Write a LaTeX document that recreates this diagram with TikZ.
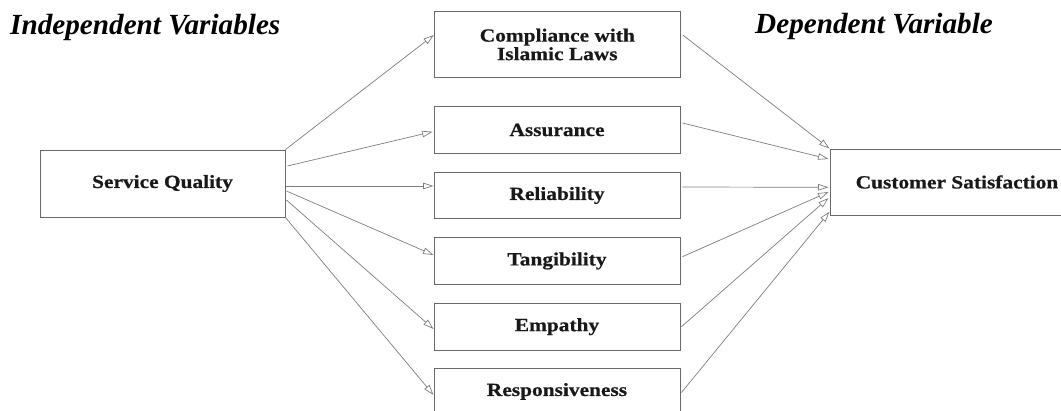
\documentclass[tikz,border=0pt]{standalone}
\usepackage{fontspec}
\setmainfont{Liberation Serif}
\newfontfamily\boxfont[FakeStretch=1.15,FakeBold=0.6]{Liberation Serif}
\usetikzlibrary{arrows.meta,calc}
\definecolor{boxline}{RGB}{105,105,105}
\definecolor{arrowline}{RGB}{125,125,125}
\definecolor{ink}{RGB}{25,25,25}
\tikzset{
  varbox/.style={draw=boxline, line width=0.9pt, fill=white, text=ink,
    font=\boxfont\bfseries\fontsize{18.6}{18.5}\selectfont, align=center,
    inner sep=0pt, minimum width=246pt, minimum height=46.5pt},
  link/.style={draw=arrowline, line width=0.7pt,
    -{Triangle[open, length=10.5pt, width=6.5pt]}},
  heading/.style={font=\bfseries\itshape\fontsize{29.2}{30}\selectfont,
    anchor=base west, inner sep=0pt, text=black}
}
\begin{document}
\begin{tikzpicture}[x=1pt,y=-1pt]
\useasboundingbox (0,0) rectangle (1061,410);
\clip (0,0) rectangle (1061,410);

% headings
\node[heading] (indep) at (10,34) {Independent Variables};
\node[heading] (dep) at (755,33.3) {Dependent Variable};

% independent variable
\node[varbox, minimum width=245pt, minimum height=67pt] (sq) at (162.5,183.5) {Service Quality};

% dimensions
\node[varbox, minimum height=65.6pt] (comp) at (557.3,44.5) {Compliance with\\Islamic Laws};
\node[varbox] (assu) at (557,130) {Assurance};
\node[varbox] (reli) at (557,195.5) {Reliability};
\node[varbox] (tang) at (557,261) {Tangibility};
\node[varbox] (empa) at (557,326.7) {Empathy};
\node[varbox] (resp) at (557,391.5) {Responsiveness};

% dependent variable
\node[varbox, minimum width=254pt, minimum height=66pt] (cs) at (957,182) {Customer Satisfaction};

% service quality to each dimension
\draw[link] (sq.north east) -- ($(comp.west)+(0,-9.5)$);
\draw[link] ($(sq.east)+(2,-17.5)$) -- ($(assu.west)+(-1,1.7)$);
\draw[link] ($(sq.east)+(1,2.5)$) -- ($(reli.west)+(0,-9.5)$);
\draw[link] ($(sq.east)+(1,7.5)$) -- ($(tang.west)+(0,-6)$);
\draw[link] ($(sq.east)+(1,16.5)$) -- ($(empa.west)+(0,2.3)$);
\draw[link] (sq.south east) -- ($(resp.west)+(0,3.5)$);

% each dimension to customer satisfaction
\draw[link] ($(comp.east)+(2,-9.5)$) -- (cs.north west);
\draw[link] ($(assu.east)+(2,-7)$) -- ($(cs.west)+(-1,-23)$);
\draw[link] ($(reli.east)+(2,-8.5)$) -- ($(cs.west)+(-1,5.3)$);
\draw[link] ($(tang.east)+(2,-4.3)$) -- ($(cs.west)+(-1,10)$);
\draw[link] ($(empa.east)+(1,0)$) -- ($(cs.west)+(-1,16)$);
\draw[link] ($(resp.east)+(1,1)$) -- ($(cs.west)+(0,29.7)$);
\end{tikzpicture}
\end{document}
